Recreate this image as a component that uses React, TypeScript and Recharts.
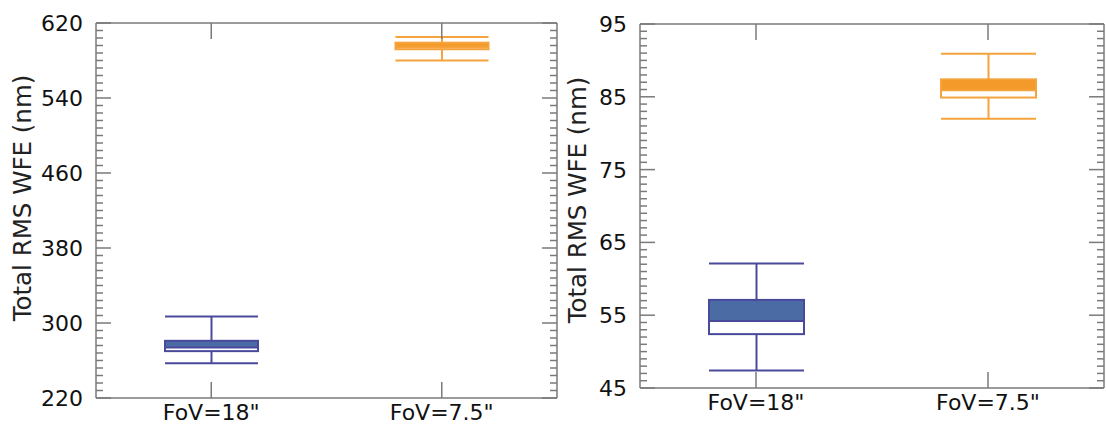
import React from 'react';
import { ComposedChart, Bar, XAxis, YAxis } from 'recharts';

const categories = ['FoV=18"', 'FoV=7.5"'];

// Left panel (nm)
const leftMin = [257, 580];
const leftQ1 = [270, 592];
const leftMedian = [274, 594];
const leftQ3 = [281, 599];
const leftMax = [307, 605];
const leftYTicks = [220, 300, 380, 460, 540, 620];

// Right panel (nm)
const rightMin = [47.4, 82];
const rightQ1 = [52.4, 84.9];
const rightMedian = [54.2, 85.9];
const rightQ3 = [57.1, 87.4];
const rightMax = [62.1, 90.9];
const rightYTicks = [45, 55, 65, 75, 85, 95];

const boxStroke = ['#4a4a9c', '#f5a33c'];
const boxFill = ['#4b6ba4', '#f39a2a'];
const axisColor = '#7a7a7a';
const FONT = '"DejaVu Sans", Verdana, sans-serif';

function buildRows(min: number[], q1: number[], med: number[], q3: number[], max: number[]) {
  return categories.map((c, i) => ({
    name: c,
    range: [min[i], max[i]],
    min: min[i],
    q1: q1[i],
    median: med[i],
    q3: q3[i],
    max: max[i],
    idx: i,
  }));
}

function withMinor(majors: number[], steps: number) {
  const out: number[] = [];
  for (let i = 0; i < majors.length - 1; i++) {
    const a = majors[i];
    const b = majors[i + 1];
    for (let k = 0; k < steps; k++) out.push(Math.round((a + ((b - a) * k) / steps) * 1000) / 1000);
  }
  out.push(majors[majors.length - 1]);
  return out;
}

const leftRows = buildRows(leftMin, leftQ1, leftMedian, leftQ3, leftMax);
const rightRows = buildRows(rightMin, rightQ1, rightMedian, rightQ3, rightMax);

const BoxShape = (props: any) => {
  const { x, y, width, height, payload } = props;
  if (!payload) return null;
  const top = Math.min(y, y + height);
  const h = Math.abs(height);
  const span = payload.max - payload.min;
  const py = (v: number) => top + ((payload.max - v) / span) * h;
  const cx = x + width / 2;
  const stroke = boxStroke[payload.idx];
  const fill = boxFill[payload.idx];
  const yMax = py(payload.max);
  const yQ3 = py(payload.q3);
  const yMed = py(payload.median);
  const yQ1 = py(payload.q1);
  const yMin = py(payload.min);
  return (
    <g>
      <line x1={cx} y1={yMax} x2={cx} y2={yQ3} stroke={stroke} strokeWidth={2} />
      <line x1={cx} y1={yQ1} x2={cx} y2={yMin} stroke={stroke} strokeWidth={2} />
      <line x1={x} y1={yMax} x2={x + width} y2={yMax} stroke={stroke} strokeWidth={2} />
      <line x1={x} y1={yMin} x2={x + width} y2={yMin} stroke={stroke} strokeWidth={2} />
      <rect x={x} y={yQ3} width={width} height={yMed - yQ3} fill={fill} />
      <rect x={x} y={yMed} width={width} height={yQ1 - yMed} fill="#ffffff" />
      <rect x={x} y={yQ3} width={width} height={yQ1 - yQ3} fill="none" stroke={stroke} strokeWidth={2} />
      <line x1={x} y1={yMed} x2={x + width} y2={yMed} stroke={stroke} strokeWidth={2} />
    </g>
  );
};

const makeYTick = (majors: number[], side: 'left' | 'right') => (props: any) => {
  const { x, y, payload } = props;
  const v = payload.value;
  const major = majors.some((m) => Math.abs(m - v) < 1e-6);
  const len = major ? 15 : 7;
  const dir = side === 'left' ? 1 : -1;
  return (
    <g>
      <line x1={x} y1={y} x2={x + dir * len} y2={y} stroke={axisColor} strokeWidth={1.5} />
      {side === 'left' && major ? (
        <text x={x - 13} y={y} dy="0.36em" textAnchor="end" fontFamily={FONT} fontSize={22} fill="#111111">
          {v}
        </text>
      ) : null}
    </g>
  );
};

const bottomTick = (props: any) => {
  const { x, y, payload } = props;
  return (
    <g>
      <line x1={x} y1={y} x2={x} y2={y - 16} stroke={axisColor} strokeWidth={1.5} />
      <text x={x} y={y + 22} textAnchor="middle" fontFamily={FONT} fontSize={22} fill="#111111">
        {payload.value}
      </text>
    </g>
  );
};

const topTick = (props: any) => {
  const { x, y } = props;
  return <line x1={x} y1={y} x2={x} y2={y + 16} stroke={axisColor} strokeWidth={1.5} />;
};

const titleLabel = (tx: number, ty: number) => () => (
  <text
    x={tx}
    y={ty}
    transform={`rotate(-90 ${tx} ${ty})`}
    textAnchor="middle"
    dominantBaseline="central"
    fontFamily={FONT}
    fontSize={24.5}
    fill="#222222"
  >
    Total RMS WFE (nm)
  </text>
);

type PanelProps = {
  rows: any[];
  width: number;
  marginTop: number;
  bottomHeight: number;
  leftWidth: number;
  rightWidth: number;
  domain: [number, number];
  majors: number[];
  minorSteps: number;
  barSize: number;
  titleX: number;
  titleY: number;
};

const Panel = (p: PanelProps) => {
  const allTicks = withMinor(p.majors, p.minorSteps);
  return (
    <ComposedChart
      width={p.width}
      height={424}
      data={p.rows}
      margin={{ top: p.marginTop, right: 0, bottom: 0, left: 0 }}
    >
      <XAxis
        dataKey="name"
        xAxisId="bottom"
        height={p.bottomHeight}
        tickSize={0}
        tickMargin={0}
        tickLine={false}
        interval={0}
        tick={bottomTick}
        axisLine={{ stroke: axisColor, strokeWidth: 1.5 }}
      />
      <XAxis
        dataKey="name"
        xAxisId="top"
        orientation="top"
        height={1}
        tickSize={0}
        tickMargin={0}
        tickLine={false}
        interval={0}
        tick={topTick}
        axisLine={{ stroke: axisColor, strokeWidth: 1.5 }}
      />
      <YAxis
        yAxisId="left"
        type="number"
        width={p.leftWidth}
        domain={p.domain}
        ticks={allTicks}
        interval={0}
        allowDataOverflow
        tickSize={0}
        tickMargin={0}
        tickLine={false}
        tick={makeYTick(p.majors, 'left')}
        axisLine={{ stroke: axisColor, strokeWidth: 1.5 }}
        label={{ content: titleLabel(p.titleX, p.titleY) }}
      />
      <YAxis
        yAxisId="right"
        orientation="right"
        type="number"
        width={p.rightWidth}
        domain={p.domain}
        ticks={allTicks}
        interval={0}
        allowDataOverflow
        tickSize={0}
        tickMargin={0}
        tickLine={false}
        tick={makeYTick(p.majors, 'right')}
        axisLine={{ stroke: axisColor, strokeWidth: 1.5 }}
      />
      <Bar
        xAxisId="bottom"
        yAxisId="left"
        dataKey="range"
        barSize={p.barSize}
        shape={BoxShape}
        isAnimationActive={false}
      />
    </ComposedChart>
  );
};

export default function App() {
  return (
    <div
      style={{
        position: 'absolute',
        left: 0,
        top: 0,
        width: 1107,
        height: 424,
        overflow: 'hidden',
        background: '#ffffff',
      }}
    >
      <div style={{ position: 'absolute', left: 0, top: 0 }}>
        <Panel
          rows={leftRows}
          width={565}
          marginTop={22}
          bottomHeight={26}
          leftWidth={96}
          rightWidth={8}
          domain={[220, 620]}
          majors={leftYTicks}
          minorSteps={10}
          barSize={93}
          titleX={22}
          titleY={198}
        />
      </div>
      <div style={{ position: 'absolute', left: 550, top: 0 }}>
        <Panel
          rows={rightRows}
          width={560}
          marginTop={23}
          bottomHeight={36}
          leftWidth={90}
          rightWidth={6}
          domain={[45, 95]}
          majors={rightYTicks}
          minorSteps={10}
          barSize={95}
          titleX={27}
          titleY={200}
        />
      </div>
    </div>
  );
}
